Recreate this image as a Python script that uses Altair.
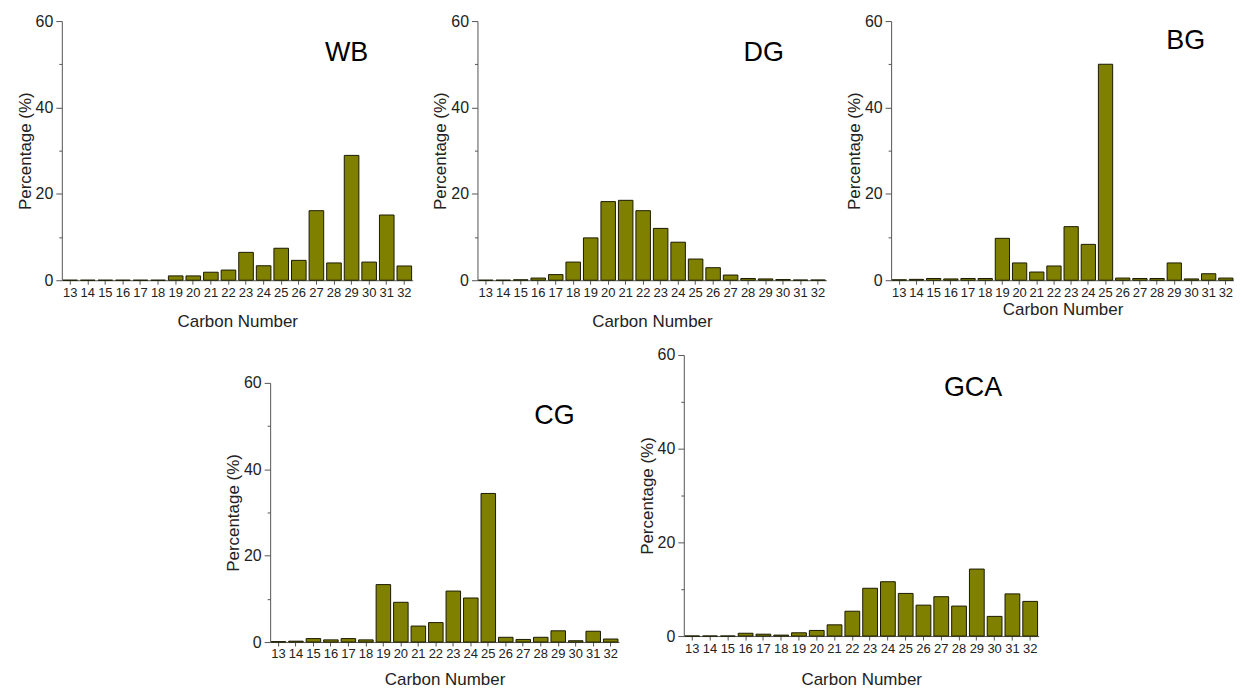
import altair as alt
import pandas as pd

carbon = [str(c) for c in range(13, 33)]
wb = [0, 0, 0, 0, 0, 0, 1.0, 1.0, 1.85, 2.35, 6.45, 3.35, 7.4, 4.6, 16.1, 4.0, 28.9, 4.2, 15.1, 3.3]
dg = [0, 0, 0.1, 0.5, 1.3, 4.2, 9.8, 18.2, 18.5, 16.1, 12.0, 8.8, 4.9, 2.9, 1.2, 0.4, 0.3, 0.15, 0.05, 0.05]
bg = [0.1, 0.2, 0.4, 0.3, 0.4, 0.4, 9.7, 4.0, 1.9, 3.3, 12.4, 8.3, 50.0, 0.5, 0.4, 0.4, 4.0, 0.3, 1.5, 0.5]
cg = [0.1, 0.2, 0.8, 0.5, 0.8, 0.5, 13.3, 9.2, 3.7, 4.5, 11.8, 10.2, 34.4, 1.1, 0.6, 1.1, 2.6, 0.3, 2.5, 0.7]
gca = [0, 0, 0, 0.6, 0.4, 0.2, 0.7, 1.2, 2.4, 5.3, 10.2, 11.6, 9.1, 6.6, 8.4, 6.4, 14.3, 4.2, 9.0, 7.4]
y_ticks = [0, 10, 20, 30, 40, 50, 60]

FONT = "Liberation Sans"
AXC = "#555555"


def panel(name, vals, w, h, tdx, tdy, xtp=14, top_gap=0):
    df = pd.DataFrame({"carbon": carbon, "pct": vals})
    yscale = alt.Scale(domain=[0, 60], nice=False)
    if top_gap:
        yscale = alt.Scale(domain=[0, 60], nice=False, range=[h + top_gap, top_gap])
    return (
        alt.Chart(
            df,
            title=alt.TitleParams(
                name, anchor="start", frame="group", dx=tdx, dy=tdy, offset=0,
                fontSize=27, font=FONT, fontWeight="normal", color="black",
                baseline="alphabetic",
            ),
        )
        .mark_bar(fill="#808000", stroke="#1a1a00", strokeWidth=1)
        .encode(
            x=alt.X(
                "carbon:N", sort=carbon,
                scale=alt.Scale(paddingInner=0.17, paddingOuter=0.06),
                axis=alt.Axis(
                    title="Carbon Number", labelAngle=0, labelFontSize=13,
                    labelFont=FONT, labelColor="#222", titleFont=FONT,
                    titleFontSize=17, titleFontWeight="normal", titleColor="#222",
                    titlePadding=xtp, tickSize=4, labelPadding=2, domainColor=AXC,
                    tickColor=AXC, grid=False,
                ),
            ),
            y=alt.Y(
                "pct:Q",
                scale=yscale,
                axis=alt.Axis(
                    title="Percentage (%)", values=y_ticks,
                    labelExpr="datum.value % 20 == 0 ? datum.label : ''",
                    tickSize=alt.condition("datum.value % 20 == 0", alt.value(6), alt.value(3)),
                    labelFontSize=16, labelFont=FONT, labelColor="#222",
                    labelPadding=3, titleFont=FONT, titleFontSize=17,
                    titleFontWeight="normal", titleColor="#222", titlePadding=1,
                    domainColor=AXC, tickColor=AXC, grid=False,
                ),
            ),
        )
        .properties(width=w, height=h + top_gap)
    )


def spacer(w, h):
    return (
        alt.Chart(pd.DataFrame({"v": [0]}))
        .mark_point(opacity=0)
        .properties(width=w, height=h)
    )


top = alt.hconcat(
    panel("WB", wb, 352, 260, 264, 75),
    panel("DG", dg, 350, 260, 267, 75),
    panel("BG", bg, 344, 260, 276, 63, xtp=2),
    spacing=65, bounds="flush",
)

bottom = alt.hconcat(
    spacer(144, 10),
    panel("CG", cg, 350, 260, 265, 96, xtp=11, top_gap=28),
    panel("GCA", gca, 356, 282, 261, 76, xtp=17),
    spacing=65, bounds="flush",
)

chart = (
    alt.vconcat(top, bottom, spacing=18)
    .properties(padding={"left": 8, "top": 4, "right": 0, "bottom": 0}, background="white")
    .configure_view(stroke="transparent", strokeWidth=0)
)

chart.save("out.html", embed_options={"renderer": "svg", "actions": False})
